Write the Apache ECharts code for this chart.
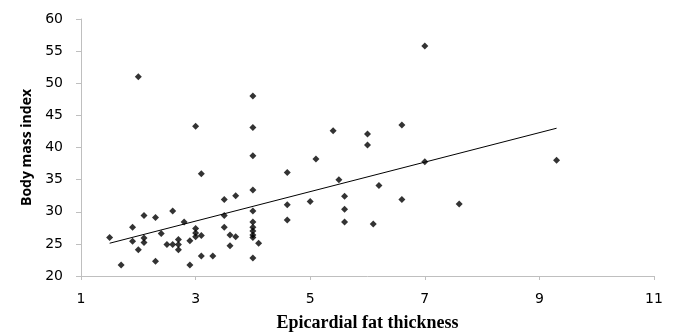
<!DOCTYPE html>
<html>
<head>
<meta charset="utf-8">
<script src="https://cdn.jsdelivr.net/npm/echarts@6/dist/echarts.min.js"></script>
<style>html,body{margin:0;padding:0;background:#fff}#c{width:675px;height:333px}</style>
</head>
<body>
<div id="c"></div>
<script>
const eftX = [1.5,1.7,1.9,1.9,2.0,2.0,2.1,2.1,2.1,2.3,2.3,2.4,2.5,2.6,2.6,2.7,2.7,2.7,2.8,2.9,2.9,
  3.0,3.0,3.0,3.0,3.1,3.1,3.1,3.3,3.5,3.5,3.5,3.6,3.6,3.7,3.7,
  4.0,4.0,4.0,4.0,4.0,4.0,4.0,4.0,4.0,4.0,4.0,4.1,4.6,4.6,4.6,5.0,5.1,5.4,5.5,5.6,5.6,5.6,
  6.0,6.0,6.1,6.2,6.6,6.6,7.0,7.0,7.6,9.3];
const bmiY = [26.0,21.7,27.6,25.4,24.1,51.0,29.4,25.9,25.2,29.1,22.3,26.6,24.9,24.9,30.1,25.7,24.9,24.1,28.4,25.5,21.7,
  43.3,27.4,26.7,26.1,26.3,35.9,23.1,23.1,31.9,29.4,27.6,26.4,24.7,32.5,26.1,
  48.0,43.1,38.7,33.4,30.1,28.4,27.6,27.0,26.4,26.0,22.8,25.1,36.1,31.1,28.7,31.6,38.2,42.6,35.0,32.4,30.4,28.4,
  42.1,40.4,28.1,34.1,43.5,31.9,55.8,37.8,31.2,38.0];
const trendX = [1.5, 9.3];
const trendY = [25.1, 43.0];
const xTitle = 'Epicardial fat thickness';
const yTitle = 'Body mass index';

const pts = eftX.map((x,i)=>[x,bmiY[i]]);
const trend = trendX.map((x,i)=>[x,trendY[i]]);
const chart = echarts.init(document.getElementById('c'));
chart.setOption({
  animation:false,
  grid:{left:81,right:21,top:19,bottom:57,containLabel:false,outerBoundsMode:'none'},
  xAxis:{type:'value',min:1,max:11,interval:2,
    axisLine:{show:true,lineStyle:{color:'#bfbfbf',width:1}},
    axisTick:{show:true,length:4,lineStyle:{color:'#bfbfbf'}},
    splitLine:{show:false},
    axisLabel:{color:'#000',fontSize:14,fontFamily:'"DejaVu Sans", sans-serif',margin:16},
    name:xTitle,nameLocation:'middle',nameGap:38,
    nameTextStyle:{fontFamily:'"Liberation Serif", serif',fontWeight:'bold',fontSize:18,color:'#000'}
  },
  yAxis:{type:'value',min:20,max:60,interval:5,
    axisLine:{show:true,lineStyle:{color:'#bfbfbf',width:1}},
    axisTick:{show:true,length:5,lineStyle:{color:'#bfbfbf'}},
    splitLine:{show:false},
    axisLabel:{color:'#000',fontSize:14,fontFamily:'"DejaVu Sans", sans-serif',margin:18},
    name:yTitle,nameLocation:'middle',nameGap:46,nameRotate:90,
    nameTextStyle:{fontFamily:'"Liberation Sans Narrow","Open Sans", sans-serif',fontWeight:'bold',fontSize:14,color:'#000'}
  },
  series:[
    {type:'scatter',data:pts,symbol:'diamond',symbolSize:7,itemStyle:{color:'#000'}},
    {type:'line',data:trend,symbol:'none',lineStyle:{color:'#000',width:1},silent:true}
  ]
});
</script>
</body>
</html>
